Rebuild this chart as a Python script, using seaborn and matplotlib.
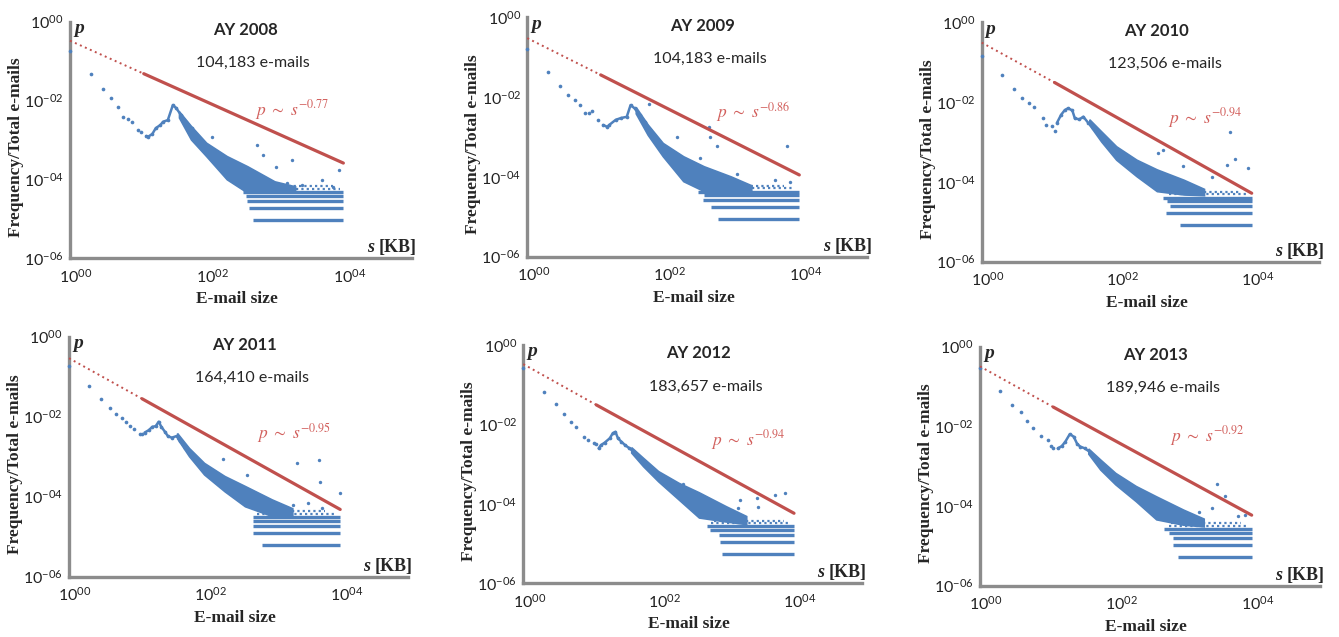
import numpy as np
import matplotlib
matplotlib.use("Agg")
import matplotlib.pyplot as plt
from matplotlib.ticker import FuncFormatter
from matplotlib.transforms import ScaledTranslation
import seaborn as sns

# ---- data ------------------------------------------------------------------
years = [2008, 2009, 2010, 2011, 2012, 2013]
email_totals = ["104,183", "104,183", "123,506", "164,410", "183,657", "189,946"]
fit_exponents = ["0.77", "0.86", "0.94", "0.95", "0.94", "0.92"]

# red fit line, p read at s = 1, 12 and 10^4
fit_s = [1, 12, 10000]
fit_p = {
    2008: [0.33, 0.048, 2.6e-4],
    2009: [0.30, 0.036, 1.12e-4],
    2010: [0.31, 0.031, 5.2e-5],
    2011: [0.29, 0.028, 4.8e-5],
    2012: [0.33, 0.031, 5.8e-5],
    2013: [0.32, 0.0305, 5.9e-5],
}

# main trend of the blue points (size s in KB, share p)
trend_s = {
    2008: [1, 2, 3, 4, 5, 6, 7, 8, 10, 11, 13, 14, 16, 18, 21, 23, 27, 32, 36, 42, 50, 60, 71, 89, 125, 175, 245, 344, 480],
    2009: [1, 2, 3, 4, 5, 6, 7, 8, 9, 11, 13, 15, 16, 20, 24, 29, 33, 38, 45, 54, 64, 80, 100, 132, 176, 246, 345, 484],
    2010: [1, 2, 3, 4, 5, 6, 8, 9, 11, 12, 13, 15, 17, 19, 22, 24, 28, 32, 38, 45, 57, 71, 89, 118, 157, 209, 277, 392, 555],
    2011: [1, 2, 3, 4, 5, 6, 7, 8, 9, 11, 12, 13, 15, 17, 19, 21, 23, 26, 29, 33, 39, 44, 52, 65, 81, 108, 143, 190, 265, 375, 526, 735],
    2012: [1, 2, 3, 4, 5, 6, 8, 9, 11, 12, 13, 14, 16, 19, 21, 23, 25, 28, 32, 36, 42, 50, 59, 75, 94, 117, 155, 206, 275, 387, 542],
    2013: [1, 2, 3, 4, 5, 6, 8, 10, 11, 12, 14, 16, 18, 21, 24, 27, 30, 35, 41, 48, 59, 72, 90, 115, 153, 203, 284, 398, 558],
}
trend_p = {
    2008: [0.184, 0.047, 0.0192, 0.0114, 0.0067, 0.0039, 0.0035, 0.0029, 0.0018, 0.0016, 0.00126, 0.00122, 0.00142,
           0.0020, 0.0024, 0.0029, 0.0032, 0.0077, 0.0064, 0.0043, 0.0029, 0.0020, 0.0012, 6.8e-4, 3.8e-4, 2.6e-4,
           1.7e-4, 1.07e-4, 8.0e-5],
    2009: [0.158, 0.0434, 0.0194, 0.0113, 0.0085, 0.0063, 0.0039, 0.0041, 0.0046, 0.0027, 0.0020, 0.0018, 0.0020,
           0.0027, 0.0030, 0.0032, 0.0063, 0.0052, 0.0035, 0.0024, 0.0015, 8.4e-4, 5.2e-4, 3.2e-4, 2.2e-4, 1.5e-4,
           1.0e-4, 6.9e-5],
    2010: [0.143, 0.048, 0.021, 0.0124, 0.0097, 0.0074, 0.0039, 0.0027, 0.0025, 0.0019, 0.0030, 0.0048, 0.0063,
           0.0070, 0.0062, 0.0039, 0.0037, 0.0043, 0.0030, 0.0022, 0.00165, 9.3e-4, 5.8e-4, 4.3e-4, 2.9e-4, 2.2e-4,
           1.5e-4, 1.0e-4, 7.6e-5],
    2011: [0.185, 0.058, 0.027, 0.0162, 0.0117, 0.0091, 0.0075, 0.0058, 0.0048, 0.0038, 0.0036, 0.0040, 0.0046,
           0.0056, 0.0058, 0.0075, 0.0056, 0.0042, 0.0032, 0.0030, 0.0033, 0.0024, 0.00162, 0.0011, 7.5e-4, 5.1e-4,
           3.5e-4, 2.6e-4, 1.8e-4, 1.2e-4, 8.3e-5, 5.1e-5],
    2012: [0.259, 0.067, 0.0327, 0.018, 0.0113, 0.0085, 0.0049, 0.0041, 0.0035, 0.0032, 0.0025, 0.0030, 0.0035,
           0.0045, 0.0060, 0.0065, 0.0045, 0.0037, 0.0030, 0.0026, 0.0021, 0.00155, 0.00116, 7.9e-4, 5.9e-4, 4.4e-4,
           3.0e-4, 2.0e-4, 1.4e-4, 9.4e-5, 6.4e-5],
    2013: [0.286, 0.077, 0.0344, 0.0224, 0.0139, 0.0093, 0.0057, 0.0045, 0.0032, 0.0029, 0.0028, 0.0032, 0.0041,
           0.0064, 0.0055, 0.0036, 0.0031, 0.0028, 0.0023, 0.0017, 0.00118, 8.0e-4, 5.4e-4, 4.1e-4, 2.8e-4, 1.9e-4,
           1.3e-4, 8.7e-5, 5.9e-5],
}

# spread of the dense cloud (lower / upper edge)
cloud_s = [40, 60, 100, 200, 400, 1000, 2000]
cloud_lo = {
    2008: [3.6e-3, 1.0e-3, 3.8e-4, 9.8e-5, 4.5e-5, 4.5e-5, 5.0e-5],
    2009: [3.8e-3, 1.1e-3, 3.2e-4, 7.6e-5, 4.3e-5, 3.9e-5, 4.3e-5],
    2010: [2.6e-3, 1.0e-3, 3.5e-4, 1.35e-4, 5.7e-5, 4.7e-5, 4.5e-5],
    2011: [2.8e-3, 1.0e-3, 3.5e-4, 1.33e-4, 5.6e-5, 3.2e-5, 3.2e-5],
    2012: [1.9e-3, 8.6e-4, 3.6e-4, 1.26e-4, 4.4e-5, 3.5e-5, 3.0e-5],
    2013: [2.0e-3, 8.0e-4, 3.4e-4, 1.29e-4, 4.5e-5, 3.3e-5, 3.0e-5],
}
cloud_hi = {
    2008: [5.2e-3, 2.2e-3, 8.3e-4, 3.8e-4, 2.1e-4, 8.7e-5, 6.5e-5],
    2009: [5.5e-3, 2.0e-3, 6.9e-4, 3.2e-4, 1.8e-4, 1.0e-4, 6.0e-5],
    2010: [3.6e-3, 1.8e-3, 7.6e-4, 3.5e-4, 2.0e-4, 1.1e-4, 6.5e-5],
    2011: [3.8e-3, 1.6e-3, 6.8e-4, 3.2e-4, 1.8e-4, 8.3e-5, 5.0e-5],
    2012: [2.6e-3, 1.4e-3, 6.5e-4, 3.3e-4, 1.9e-4, 8.5e-5, 4.8e-5],
    2013: [2.7e-3, 1.43e-3, 6.6e-4, 3.1e-4, 1.7e-4, 7.9e-5, 4.7e-5],
}

# horizontal bands of sizes seen 1, 2, 3 ... times
row_p = {
    2008: [9.6e-6, 1.92e-5, 2.88e-5, 3.84e-5, 4.8e-5, 5.8e-5, 6.7e-5],
    2009: [8.6e-6, 1.73e-5, 2.6e-5, 3.45e-5, 4.3e-5, 5.2e-5, 6.0e-5],
    2010: [8.1e-6, 1.62e-5, 2.43e-5, 3.24e-5, 4.05e-5, 4.9e-5, 5.7e-5],
    2011: [6.1e-6, 1.22e-5, 1.83e-5, 2.43e-5, 3.04e-5, 3.65e-5, 4.3e-5],
    2012: [5.4e-6, 1.09e-5, 1.63e-5, 2.18e-5, 2.72e-5, 3.3e-5, 3.8e-5],
    2013: [5.3e-6, 1.05e-5, 1.58e-5, 2.1e-5, 2.63e-5, 3.2e-5, 3.7e-5],
}
row_start = {
    2008: [480, 420, 385, 380, 345, 400, 450],
    2009: [630, 500, 380, 400, 325, 400, 450],
    2010: [870, 540, 620, 560, 490, 600, 650],
    2011: [700, 520, 520, 520, 520, 600, 650],
    2012: [850, 800, 780, 580, 510, 600, 650],
    2013: [830, 700, 700, 600, 520, 600, 650],
}
row_end = {
    2008: [10000, 10000, 10000, 10000, 10000, 9000, 7000],
    2009: [10000, 10000, 10000, 10000, 10000, 8000, 6000],
    2010: [10000, 10000, 10000, 10000, 10000, 9000, 7000],
    2011: [10000, 10000, 10000, 10000, 10000, 8000, 6000],
    2012: [10000, 10000, 10000, 10000, 10000, 9000, 7000],
    2013: [10000, 10000, 10000, 10000, 10000, 9000, 7000],
}

# isolated points away from the cloud
outlier_s = {
    2008: [118, 537, 676, 1050, 1480, 1780, 2450, 4800, 7100, 8500],
    2009: [62, 160, 345, 473, 490, 607, 1200, 4400, 6500, 7300],
    2010: [405, 490, 950, 2560, 4300, 4800, 5600, 8700],
    2011: [185, 420, 2040, 2270, 3400, 4800, 5070, 5350, 9800],
    2012: [230, 1500, 1600, 2850, 2900, 5200, 7300],
    2013: [1650, 2600, 3070, 4000, 6300, 8000],
}
outlier_p = {
    2008: [1.2e-3, 7.4e-4, 4.2e-4, 2.1e-4, 7.9e-5, 3.2e-4, 7.2e-5, 9.8e-5, 6.6e-5, 1.7e-4],
    2009: [6.6e-3, 1.0e-3, 2.9e-4, 1.8e-3, 1.0e-3, 5.8e-4, 1.2e-4, 8.3e-5, 5.8e-4, 7.6e-5],
    2010: [5.2e-4, 6.3e-4, 2.55e-4, 1.35e-4, 2.65e-4, 1.75e-3, 3.7e-4, 2.2e-4],
    2011: [8.6e-4, 3.5e-4, 6.2e-5, 7.1e-4, 7.1e-5, 8.3e-4, 2.3e-4, 5.1e-5, 1.26e-4],
    2012: [3.2e-4, 8.0e-5, 1.26e-4, 1.38e-4, 8.5e-5, 1.67e-4, 1.86e-4],
    2013: [7.2e-5, 8.7e-5, 3.5e-4, 1.8e-4, 5.5e-5, 6.0e-5],
}

# ---- layout (pixels in a 1339 x 637 canvas: left, right, top, bottom) ------
W, H = 1339, 637
panel_px = [
    (70, 411.7, 21.7, 258.3), (527.3, 867.3, 17.3, 256.7), (981.7, 1319.2, 22.3, 261.7),
    (69, 408, 336.7, 576.7), (523.3, 861.7, 345, 583.3), (980, 1319.6, 346.7, 585.7),
]
# left edge (log s) and baseline (log p) of the fit label
fit_label_at = [(2.71, -2.37), (2.77, -2.53), (2.765, -2.53), (2.77, -2.54), (2.77, -2.54), (2.80, -2.385)]

BLUE = "#4F81BD"
RED = "#C0504D"
RED_TXT = "#D2605D"
SPINE = "#8C8C8C"
SERIF = "Liberation Serif"
SANS = "Lato"

sns.set_theme(style="white")
plt.rcParams["font.family"] = [SANS, "DejaVu Sans"]


def pow_label(v, pos):
    e = int(round(np.log10(v)))
    txt = f"-{abs(e):02d}" if e < 0 else f"{e:02d}"
    return r"$\mathregular{10^{" + txt + "}}$"


fig = plt.figure(figsize=(W / 100, H / 100), dpi=100)
nudge = ScaledTranslation(6 / 100, 0, fig.dpi_scale_trans)

for i, year in enumerate(years):
    L, R, T, B = panel_px[i]
    w, h = R - L, B - T
    ax = fig.add_axes([L / W, 1 - B / H, w / W, h / H])
    ax.set_xscale("log")
    ax.set_yscale("log")
    ax.set_xlim(1, 1e5)
    ax.set_ylim(1e-6, 1)

    # dense cloud, outlined by its lower and upper edge
    poly_s = cloud_s + cloud_s[::-1]
    poly_p = cloud_lo[year] + cloud_hi[year][::-1]
    ax.fill(poly_s, poly_p, facecolor=BLUE, edgecolor=BLUE, lw=1.2, zorder=2)

    # count bands
    lv, st, en = row_p[year], row_start[year], row_end[year]
    ax.hlines(lv[:5], st[:5], en[:5], colors=BLUE, lw=2.4, zorder=2)
    ax.hlines(lv[5:], st[5:], en[5:], colors=BLUE, lw=1.6, linestyles=(0, (1, 1.4)), zorder=2)

    # trend points
    ts, tp = trend_s[year], trend_p[year]
    chain = [k for k, s in enumerate(ts) if s >= 13]
    sns.lineplot(x=[ts[k] for k in chain], y=[tp[k] for k in chain], ax=ax, color=BLUE, lw=1.8,
                 estimator=None, sort=False, zorder=3)
    sns.scatterplot(x=ts, y=tp, ax=ax, color=BLUE, s=7, linewidth=0, zorder=4, clip_on=False)
    sns.scatterplot(x=outlier_s[year], y=outlier_p[year], ax=ax, color=BLUE, s=6, linewidth=0, zorder=4)

    # power-law fit
    fp = fit_p[year]
    ax.plot(fit_s[:2], fp[:2], color=RED, lw=1.4, ls=(0, (1, 1.8)), zorder=5, clip_on=False)
    ax.plot(fit_s[1:], fp[1:], color=RED, lw=2.3, zorder=5)

    # axes styling
    for side in ["top", "right"]:
        ax.spines[side].set_visible(False)
    for side in ["left", "bottom"]:
        ax.spines[side].set_color(SPINE)
        ax.spines[side].set_linewidth(2.4)
    ax.set_xticks([1, 1e2, 1e4])
    ax.set_yticks([1e-6, 1e-4, 1e-2, 1])
    ax.minorticks_off()
    ax.xaxis.set_major_formatter(FuncFormatter(pow_label))
    ax.yaxis.set_major_formatter(FuncFormatter(pow_label))
    ax.tick_params(axis="both", which="major", direction="out", length=2.5, width=2, color=SPINE,
                   labelsize=11.5, labelcolor="#222222")
    ax.tick_params(axis="x", pad=4)
    ax.tick_params(axis="y", pad=2)
    for lab in ax.get_xticklabels():
        lab.set_transform(lab.get_transform() + nudge)
    ax.grid(False)
    ax.set_xlabel("")
    ax.set_ylabel("")

    # texts
    ax.text(-54 / w, 0.47, "Frequency/Total e-mails", transform=ax.transAxes, rotation=90,
            ha="center", va="center", family=SERIF, weight="bold", fontsize=12.5)
    ax.text(0.49, -41 / h, "E-mail size", transform=ax.transAxes, ha="center", va="center",
            family=SERIF, weight="bold", fontsize=12.5)
    ax.text(175 / w, 1 - 8.5 / h, f"AY {year}", transform=ax.transAxes, ha="center", va="center",
            weight="bold", fontsize=12)
    ax.text(183 / w, 1 - 41.5 / h, f"{email_totals[i]} e-mails", transform=ax.transAxes,
            ha="center", va="center", fontsize=11.5)
    ax.text(4 / w, 1 - 6.8 / h, "p", transform=ax.transAxes, ha="left", va="center",
            family=SERIF, weight="bold", style="italic", fontsize=14)
    kb = ax.text(1 + 5 / w, 10.5 / h, "[KB]", transform=ax.transAxes, ha="right", va="center",
                 family=SERIF, weight="bold", fontsize=13)
    ax.annotate("s ", xy=(0, 0), xycoords=kb, ha="right", va="bottom",
                family=SERIF, weight="bold", style="italic", fontsize=13)
    lx, ly = fit_label_at[i]
    ax.text(10 ** lx, 10 ** ly, r"$p\ \sim\ s^{\mathit{-" + fit_exponents[i] + "}}$", ha="left",
            va="baseline", color=RED_TXT, fontsize=12.5, math_fontfamily="stix")

fig.savefig("out.png", dpi=100)
